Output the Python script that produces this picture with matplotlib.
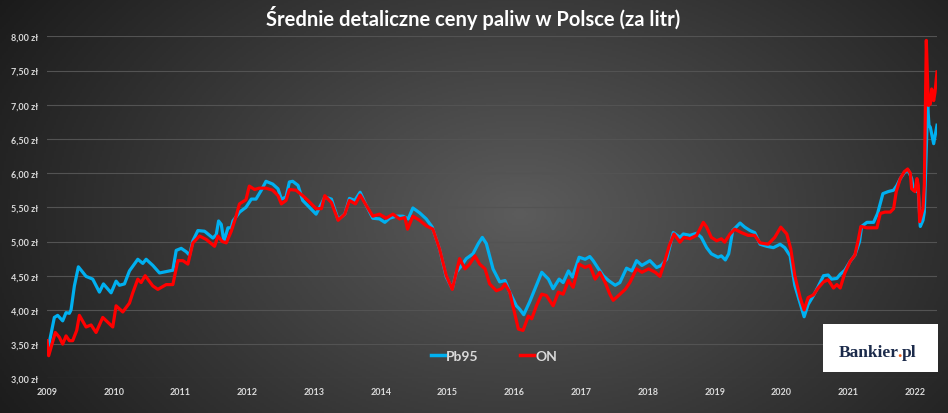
"""
Srednie detaliczne ceny paliw w Polsce (za litr) - Pb95 vs ON, 2009-2022
dark Excel-style chart, values read off the weekly price curve
"""

import numpy as np
import matplotlib as mpl
import matplotlib.pyplot as plt
from matplotlib.patches import Rectangle

mpl.rcParams['font.family'] = ['Lato', 'DejaVu Sans']

# Pb95 (decimal year, zl/litr)
pb95_t = [2009.00, 2009.04, 2009.11, 2009.16, 2009.235, 2009.285, 2009.335, 2009.36, 2009.41, 2009.47,
          2009.585, 2009.685, 2009.785, 2009.845, 2009.96, 2010.035, 2010.085, 2010.16, 2010.235, 2010.36,
          2010.435, 2010.485, 2010.585, 2010.685, 2010.785, 2010.885, 2010.935, 2011.01, 2011.085, 2011.135,
          2011.185, 2011.26, 2011.36, 2011.485, 2011.535, 2011.57, 2011.61, 2011.65, 2011.71, 2011.76,
          2011.785, 2011.885, 2011.98, 2012.06, 2012.13, 2012.21, 2012.28, 2012.38, 2012.46, 2012.51,
          2012.58, 2012.63, 2012.68, 2012.76, 2012.83, 2012.93, 2013.03, 2013.11, 2013.16, 2013.26,
          2013.36, 2013.46, 2013.53, 2013.61, 2013.69, 2013.78, 2013.88, 2013.98, 2014.06, 2014.13,
          2014.23, 2014.33, 2014.41, 2014.48, 2014.58, 2014.68, 2014.77, 2014.88, 2014.98, 2015.07,
          2015.13, 2015.21, 2015.28, 2015.38, 2015.46, 2015.52, 2015.58, 2015.68, 2015.78, 2015.86,
          2015.93, 2016.03, 2016.08, 2016.14, 2016.23, 2016.33, 2016.41, 2016.51, 2016.58, 2016.67,
          2016.73, 2016.81, 2016.87, 2016.97, 2017.06, 2017.13, 2017.18, 2017.26, 2017.33, 2017.41,
          2017.51, 2017.58, 2017.68, 2017.76, 2017.83, 2017.91, 2018.03, 2018.13, 2018.20, 2018.28,
          2018.38, 2018.48, 2018.53, 2018.63, 2018.73, 2018.80, 2018.88, 2018.95, 2019.05, 2019.10,
          2019.16, 2019.21, 2019.27, 2019.38, 2019.45, 2019.53, 2019.60, 2019.68, 2019.78, 2019.88,
          2019.98, 2020.05, 2020.13, 2020.20, 2020.28, 2020.34, 2020.40, 2020.48, 2020.55, 2020.63,
          2020.70, 2020.75, 2020.83, 2020.88, 2020.95, 2021.03, 2021.10, 2021.17, 2021.20, 2021.28,
          2021.38, 2021.44, 2021.52, 2021.60, 2021.68, 2021.73, 2021.78, 2021.85, 2021.90, 2021.95,
          2021.98, 2022.03, 2022.05, 2022.08, 2022.12, 2022.14, 2022.19, 2022.21, 2022.23, 2022.28,
          2022.33]
pb95_v = [3.38, 3.55, 3.89, 3.92, 3.84, 3.96, 3.95, 4.00, 4.35, 4.63,
          4.49, 4.45, 4.26, 4.38, 4.25, 4.42, 4.36, 4.38, 4.57, 4.74,
          4.68, 4.74, 4.65, 4.54, 4.56, 4.58, 4.87, 4.90, 4.85, 4.80,
          5.01, 5.16, 5.15, 5.05, 5.10, 5.30, 5.25, 5.00, 5.20, 5.20,
          5.30, 5.43, 5.50, 5.62, 5.62, 5.75, 5.88, 5.84, 5.77, 5.62,
          5.65, 5.87, 5.88, 5.82, 5.60, 5.50, 5.40, 5.55, 5.65, 5.62,
          5.32, 5.40, 5.63, 5.60, 5.72, 5.53, 5.34, 5.33, 5.28, 5.34,
          5.37, 5.37, 5.33, 5.49, 5.42, 5.33, 5.21, 4.89, 4.48, 4.31,
          4.55, 4.65, 4.75, 4.82, 4.97, 5.06, 4.97, 4.60, 4.41, 4.43,
          4.26, 4.06, 4.01, 3.93, 4.12, 4.36, 4.55, 4.45, 4.31, 4.45,
          4.40, 4.57, 4.48, 4.77, 4.74, 4.78, 4.72, 4.60, 4.50, 4.43,
          4.36, 4.40, 4.61, 4.57, 4.72, 4.65, 4.72, 4.62, 4.65, 4.74,
          5.13, 5.06, 5.11, 5.09, 5.12, 5.06, 4.91, 4.82, 4.77, 4.79,
          4.73, 4.82, 5.16, 5.27, 5.21, 5.16, 5.13, 4.96, 4.93, 4.91,
          4.96, 4.91, 4.79, 4.36, 4.10, 3.90, 4.08, 4.21, 4.34, 4.50,
          4.51, 4.45, 4.46, 4.52, 4.58, 4.71, 4.80, 5.00, 5.22, 5.28,
          5.28, 5.41, 5.70, 5.73, 5.75, 5.82, 5.92, 6.02, 6.04, 5.92,
          5.75, 5.73, 5.73, 5.22, 5.31, 5.43, 6.99, 6.70, 6.67, 6.43,
          6.70]

# ON - olej napedowy
on_t = [2009.00, 2009.025, 2009.125, 2009.185, 2009.235, 2009.285, 2009.335, 2009.385, 2009.445, 2009.485,
        2009.585, 2009.66, 2009.735, 2009.835, 2009.985, 2010.035, 2010.135, 2010.235, 2010.285, 2010.36,
        2010.41, 2010.47, 2010.585, 2010.66, 2010.785, 2010.885, 2010.96, 2011.035, 2011.11, 2011.185,
        2011.285, 2011.385, 2011.51, 2011.56, 2011.625, 2011.685, 2011.76, 2011.835, 2011.883, 2011.98,
        2012.03, 2012.11, 2012.18, 2012.28, 2012.38, 2012.46, 2012.51, 2012.58, 2012.63, 2012.73,
        2012.83, 2012.93, 2013.03, 2013.11, 2013.16, 2013.26, 2013.36, 2013.46, 2013.53, 2013.62,
        2013.69, 2013.78, 2013.88, 2013.98, 2014.08, 2014.18, 2014.28, 2014.36, 2014.40, 2014.48,
        2014.58, 2014.68, 2014.78, 2014.88, 2014.98, 2015.07, 2015.13, 2015.18, 2015.26, 2015.33,
        2015.41, 2015.48, 2015.56, 2015.63, 2015.73, 2015.81, 2015.86, 2015.93, 2016.06, 2016.13,
        2016.21, 2016.26, 2016.33, 2016.41, 2016.48, 2016.58, 2016.66, 2016.73, 2016.81, 2016.88,
        2016.97, 2017.06, 2017.13, 2017.21, 2017.28, 2017.36, 2017.43, 2017.48, 2017.56, 2017.66,
        2017.73, 2017.83, 2017.91, 2018.01, 2018.11, 2018.18, 2018.25, 2018.32, 2018.39, 2018.48,
        2018.54, 2018.63, 2018.73, 2018.83, 2018.88, 2018.95, 2019.03, 2019.10, 2019.15, 2019.23,
        2019.30, 2019.40, 2019.50, 2019.60, 2019.68, 2019.80, 2019.90, 2019.99, 2020.08, 2020.14,
        2020.20, 2020.28, 2020.34, 2020.40, 2020.48, 2020.55, 2020.63, 2020.70, 2020.78, 2020.83,
        2020.88, 2020.95, 2021.03, 2021.10, 2021.15, 2021.19, 2021.28, 2021.43, 2021.48, 2021.55,
        2021.63, 2021.68, 2021.72, 2021.78, 2021.84, 2021.89, 2021.93, 2021.95, 2022.00, 2022.03,
        2022.05, 2022.07, 2022.12, 2022.14, 2022.17, 2022.20, 2022.23, 2022.25, 2022.28, 2022.30,
        2022.33]
on_v = [3.55, 3.33, 3.67, 3.60, 3.50, 3.62, 3.55, 3.55, 3.70, 3.92,
        3.75, 3.78, 3.67, 3.89, 3.75, 4.06, 3.97, 4.10, 4.25, 4.45,
        4.40, 4.50, 4.35, 4.30, 4.37, 4.37, 4.72, 4.72, 4.67, 4.98,
        5.08, 5.03, 4.93, 5.08, 5.00, 4.98, 5.15, 5.38, 5.55, 5.61,
        5.81, 5.76, 5.78, 5.78, 5.75, 5.67, 5.55, 5.60, 5.76, 5.75,
        5.67, 5.58, 5.48, 5.48, 5.67, 5.57, 5.31, 5.40, 5.60, 5.55,
        5.68, 5.53, 5.37, 5.40, 5.34, 5.40, 5.33, 5.35, 5.18, 5.37,
        5.31, 5.23, 5.18, 4.89, 4.50, 4.30, 4.55, 4.75, 4.60, 4.67,
        4.79, 4.67, 4.60, 4.38, 4.28, 4.31, 4.38, 4.26, 3.72, 3.70,
        3.91, 3.87, 4.06, 4.23, 4.21, 4.06, 4.26, 4.23, 4.43, 4.33,
        4.67, 4.62, 4.65, 4.45, 4.55, 4.40, 4.23, 4.14, 4.21, 4.30,
        4.40, 4.60, 4.55, 4.60, 4.55, 4.49, 4.70, 4.94, 5.11, 4.99,
        5.06, 5.04, 5.09, 5.28, 5.21, 5.06, 5.01, 5.04, 4.99, 5.11,
        5.18, 5.13, 5.09, 5.09, 4.98, 4.96, 5.06, 5.21, 5.11, 4.89,
        4.50, 4.18, 4.00, 4.18, 4.22, 4.32, 4.41, 4.44, 4.32, 4.37,
        4.32, 4.54, 4.71, 4.80, 5.02, 5.22, 5.20, 5.20, 5.41, 5.43,
        5.43, 5.48, 5.73, 5.92, 6.02, 6.06, 6.00, 5.77, 5.73, 5.92,
        5.82, 5.29, 5.48, 5.82, 7.94, 6.99, 7.01, 7.23, 7.06, 7.18,
        7.48]

years = list(range(2009, 2023))
y_ticks = [3.0, 3.5, 4.0, 4.5, 5.0, 5.5, 6.0, 6.5, 7.0, 7.5, 8.0]

PB_COLOR = '#00b0f0'
ON_COLOR = '#ff0000'
TXT = '#d9d9d9'

fig = plt.figure(figsize=(9.48, 4.14), dpi=100)

# radial grey background like the Excel chart area
bg = fig.add_axes([0, 0, 1, 1], zorder=0)
xx, yy = np.meshgrid(np.linspace(0, 948, 474), np.linspace(0, 414, 207))
r = np.sqrt(((xx - 520) / 620) ** 2 + ((yy - 215) / 420) ** 2)
shade = np.clip(0.36 - 0.26 * r, 0.10, 0.36)
bg.imshow(np.dstack([shade, shade, shade]), extent=[0, 948, 414, 0], aspect='auto')
bg.set_axis_off()

ax = fig.add_axes([47 / 948, 1 - 379.3 / 414, (937 - 47) / 948, (379.3 - 37.3) / 414], zorder=1)
ax.patch.set_alpha(0)

ax.plot(pb95_t, pb95_v, color=PB_COLOR, lw=2.3, label='Pb95', solid_joinstyle='round')
ax.plot(on_t, on_v, color=ON_COLOR, lw=2.3, label='ON', solid_joinstyle='round')

ax.set_xlim(2009, 2022.33)
ax.set_ylim(3, 8)
ax.set_xticks(years)
ax.set_xticklabels([str(y) for y in years])
ax.set_yticks(y_ticks)
ax.set_yticklabels([('%.2f zł' % v).replace('.', ',') for v in y_ticks])
ax.tick_params(length=0, colors=TXT, labelsize=6.5, pad=6)
for lab in ax.get_xticklabels() + ax.get_yticklabels():
    lab.set_fontweight('bold')
ax.grid(axis='y', color='#535353', lw=0.8)
ax.set_axisbelow(True)
for s in ax.spines.values():
    s.set_visible(False)

leg = ax.legend(loc='center', bbox_to_anchor=(0.5025, 0.065), ncol=2, frameon=False,
                handlelength=1.0, handletextpad=0.12, columnspacing=3.0,
                prop={'weight': 'bold', 'size': 10})
for t in leg.get_texts():
    t.set_color(TXT)
for h in leg.get_lines():
    h.set_linewidth(2.5)

fig.text(473 / 948, 1 - 18 / 414, 'Średnie detaliczne ceny paliw w Polsce (za litr)',
         ha='center', va='center', color='white', fontsize=14.5, fontweight='bold')

# Bankier.pl logo box, text split in three pieces so the dot can be orange
fig.patches.append(Rectangle((823 / 948, 1 - 373 / 414), 115 / 948, 48 / 414,
                             transform=fig.transFigure, facecolor='white', edgecolor='none', zorder=5))
NAVY = '#1b2a4a'
logo_y = 1 - 357 / 414
logo_x = 839 / 948
logo_kw = dict(ha='left', va='baseline', fontsize=12.5, fontweight='bold',
               family=['Liberation Serif'], zorder=6)
fig.canvas.draw()
rend = fig.canvas.get_renderer()
widths = {}
for s in ['Bankier.pl', '.pl', 'pl']:
    tmp = fig.text(logo_x, logo_y, s, color='none', **logo_kw)
    widths[s] = tmp.get_window_extent(rend).width
    tmp.remove()
fig.text(logo_x, logo_y, 'Bankier', color=NAVY, **logo_kw)
fig.text(logo_x + (widths['Bankier.pl'] - widths['.pl']) / 948, logo_y, '.', color='#f26522', **logo_kw)
fig.text(logo_x + (widths['Bankier.pl'] - widths['pl']) / 948, logo_y, 'pl', color=NAVY, **logo_kw)

fig.savefig('out.png', dpi=100)
